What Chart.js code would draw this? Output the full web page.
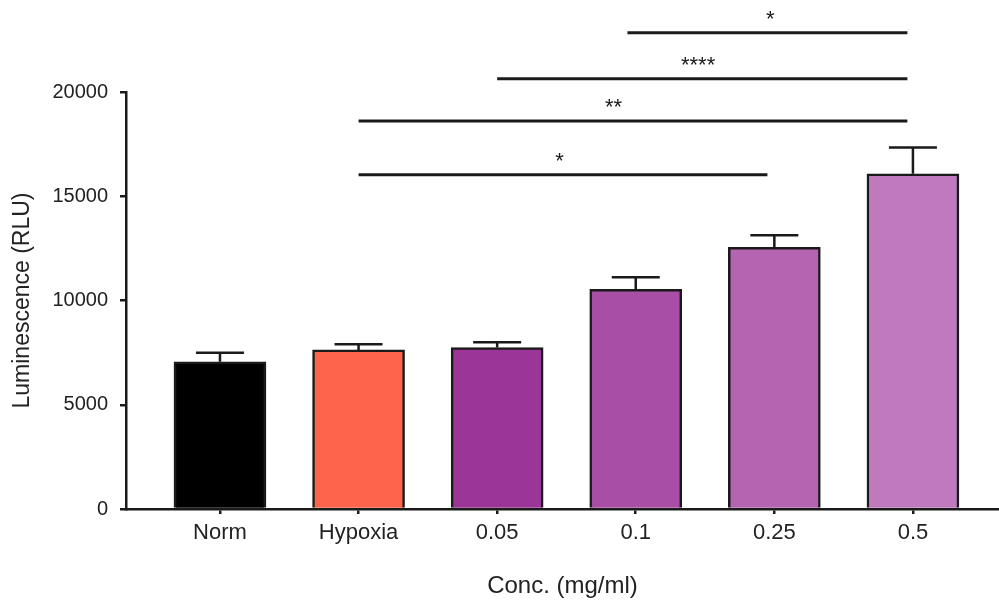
<!DOCTYPE html>
<html>
<head>
<meta charset="utf-8">
<title>Luminescence by concentration</title>
<script src="https://cdn.jsdelivr.net/npm/chart.js@4.4.1/dist/chart.umd.min.js"></script>
<style>
  html, body { margin: 0; padding: 0; background: #fff; }
  #wrap { width: 999px; height: 604px; position: relative; }
</style>
</head>
<body>
<div id="wrap"><canvas id="lumChart"></canvas></div>
<script>
const categories = ["Norm", "Hypoxia", "0.05", "0.1", "0.25", "0.5"];
const means = [7060, 7630, 7740, 10540, 12550, 16080];
const sems = [430, 270, 260, 580, 580, 1260];
const barColors = ["#000000", "#fd644b", "#9c3598", "#a94ea6", "#b564b1", "#bf79bc"];
const yTicks = [0, 5000, 10000, 15000, 20000];

// significance brackets: ends on the x axis (category units), height in RLU
const bracketFrom = [2.94, 2.0, 1.0, 1.0];
const bracketTo = [4.96, 4.96, 4.96, 3.95];
const bracketLevel = [22840, 20640, 18610, 16030];
const bracketStars = ["*", "****", "**", "*"];
const starX = [3.97, 3.45, 2.84, 2.45];

const ink = "#1a1a1a";
const family = "'Liberation Sans', Arial, sans-serif";

const errorBars = {
  id: "errorBars",
  afterDatasetsDraw(chart) {
    const { ctx, scales: { x, y } } = chart;
    ctx.save();
    ctx.strokeStyle = ink;
    ctx.lineWidth = 2.5;
    means.forEach((m, i) => {
      const px = x.getPixelForValue(i);
      const base = y.getPixelForValue(m);
      const top = y.getPixelForValue(m + sems[i]);
      ctx.beginPath();
      ctx.moveTo(px, base);
      ctx.lineTo(px, top);
      ctx.moveTo(px - 24, top);
      ctx.lineTo(px + 24, top);
      ctx.stroke();
    });
    ctx.restore();
  },
};

const brackets = {
  id: "brackets",
  afterDraw(chart) {
    const { ctx, scales: { x, y } } = chart;
    ctx.save();
    ctx.strokeStyle = ink;
    ctx.fillStyle = ink;
    ctx.lineWidth = 3;
    ctx.font = "22px " + family;
    ctx.textAlign = "center";
    ctx.textBaseline = "alphabetic";
    bracketLevel.forEach((lvl, i) => {
      const py = y.getPixelForValue(lvl);
      ctx.beginPath();
      ctx.moveTo(x.getPixelForValue(bracketFrom[i]), py);
      ctx.lineTo(x.getPixelForValue(bracketTo[i]), py);
      ctx.stroke();
      ctx.fillText(bracketStars[i], x.getPixelForValue(starX[i]), py - 6.5);
    });
    ctx.restore();
  },
};

new Chart(document.getElementById("lumChart"), {
  type: "bar",
  data: {
    datasets: [
      {
        data: categories.map((c, i) => ({ x: i, y: means[i] })),
        backgroundColor: barColors,
        borderColor: ink,
        borderWidth: 2.5,
        barThickness: 92,
      },
    ],
  },
  options: {
    responsive: true,
    maintainAspectRatio: false,
    animation: false,
    layout: { padding: { top: 92, right: 0, bottom: 0, left: 0 } },
    plugins: { legend: { display: false }, tooltip: { enabled: false } },
    scales: {
      x: {
        type: "linear",
        min: -0.678,
        max: 5.621,
        offset: false,
        afterBuildTicks: (scale) => {
          scale.ticks = categories.map((c, i) => ({ value: i }));
        },
        afterFit: (scale) => {
          scale.height = 95;
        },
        grid: { display: true, drawOnChartArea: false, offset: false, tickLength: 5, color: ink, lineWidth: 2.5 },
        border: { color: ink, width: 2.5 },
        ticks: {
          callback: (v) => categories[v],
          color: "#222",
          font: { family: family, size: 22 },
          padding: 6,
          maxRotation: 0,
          autoSkip: false,
        },
        title: {
          display: true,
          text: "Conc. (mg/ml)",
          color: "#222",
          font: { family: family, size: 24 },
          padding: { top: 0, bottom: 3 },
        },
      },
      y: {
        min: 0,
        max: 20000,
        afterBuildTicks: (scale) => {
          scale.ticks = yTicks.map((v) => ({ value: v }));
        },
        afterFit: (scale) => {
          scale.width = 126;
        },
        grid: { display: true, drawOnChartArea: false, tickLength: 6, color: ink, lineWidth: 2.5 },
        border: { color: ink, width: 2.5 },
        ticks: {
          callback: (v) => String(v),
          color: "#222",
          font: { family: family, size: 20 },
          padding: 12,
        },
        title: {
          display: true,
          text: "Luminescence (RLU)",
          color: "#222",
          font: { family: family, size: 23 },
          padding: { top: 9, bottom: 0 },
        },
      },
    },
  },
  plugins: [errorBars, brackets],
});
</script>
</body>
</html>
